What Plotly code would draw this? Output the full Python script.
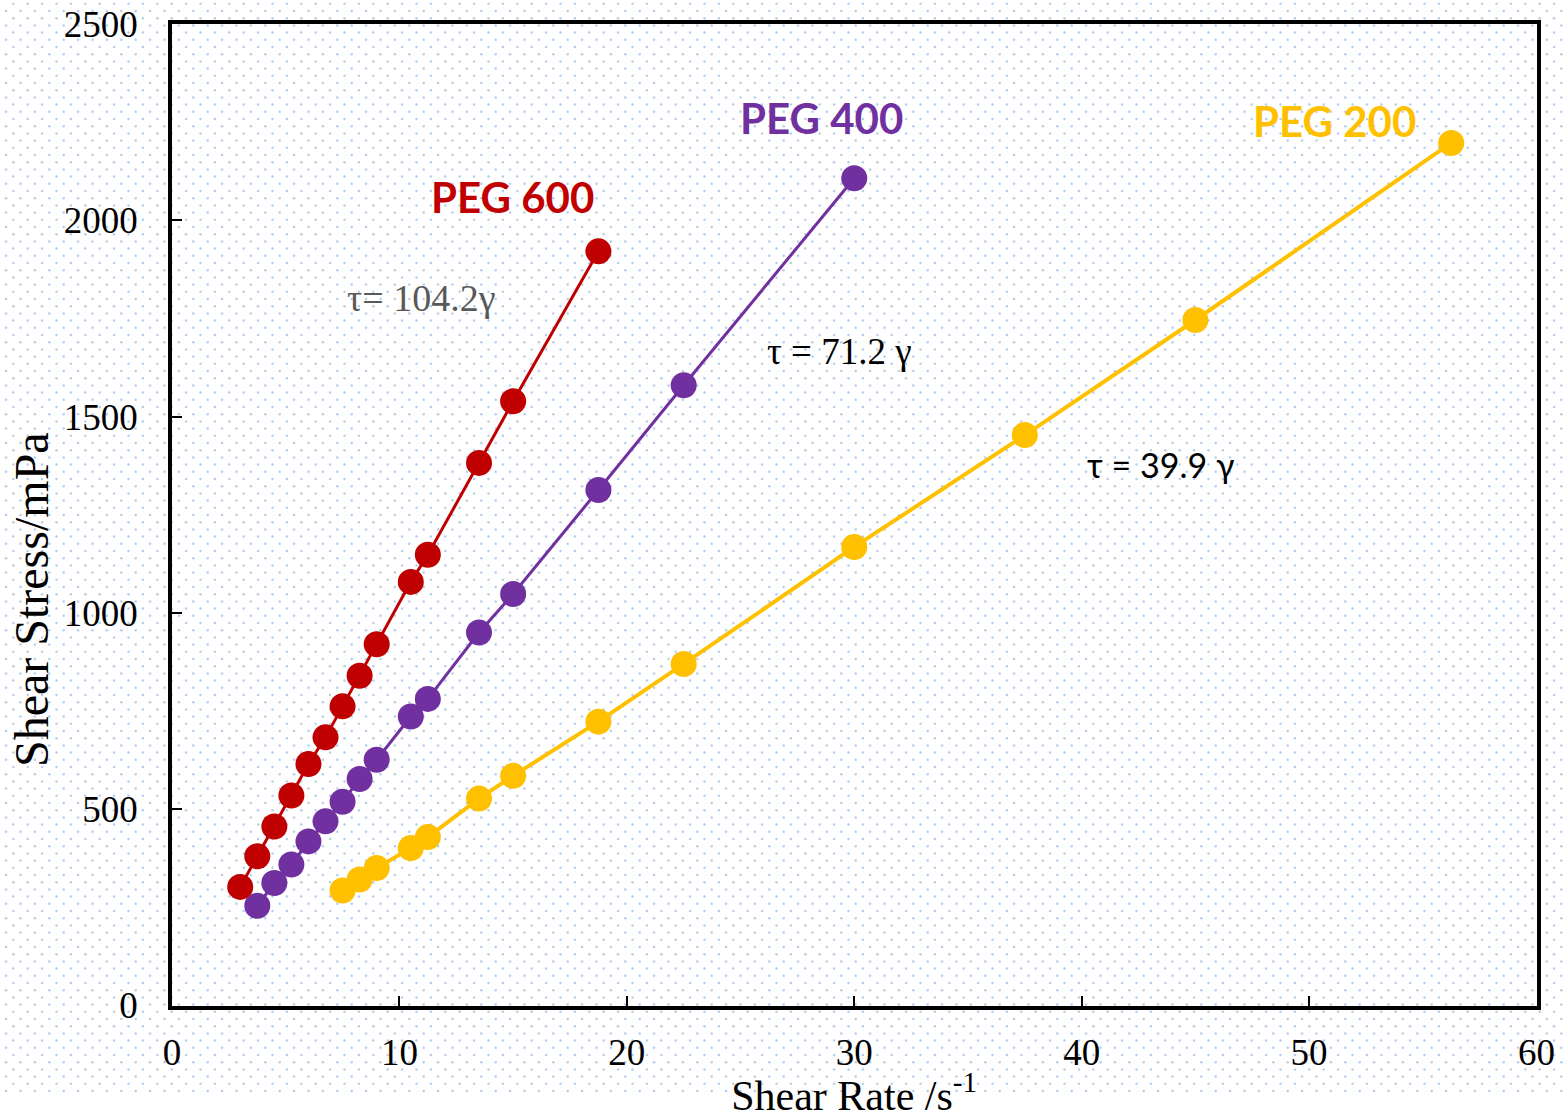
import numpy as np
import plotly.graph_objects as go

# ---- measured data: shear rate (1/s) vs shear stress (mPa) ----
peg600_rate = [3.0, 3.75, 4.5, 5.25, 6.0, 6.75, 7.5, 8.25, 9.0, 10.5, 11.25, 13.5, 15.0, 18.75]
peg600_stress = [302, 380, 456, 535, 615, 683, 762, 840, 920, 1079, 1148, 1382, 1539, 1921]

peg400_rate = [3.75, 4.5, 5.25, 6.0, 6.75, 7.5, 8.25, 9.0, 10.5, 11.25, 13.5, 15.0, 18.75, 22.5, 30.0]
peg400_stress = [254, 312, 359, 418, 469, 519, 577, 626, 736, 781, 950, 1048, 1313, 1580, 2107]

peg200_rate = [7.5, 8.25, 9.0, 10.5, 11.25, 13.5, 15.0, 18.75, 22.5, 30.0, 37.5, 45.0, 56.25]
peg200_stress = [293, 321, 350, 401, 429, 527, 585, 723, 870, 1168, 1453, 1746, 2197]

series_names = ["PEG 600", "PEG 400", "PEG 200"]
fit_labels = ["τ= 104.2γ", "τ = 71.2 γ", "τ = 39.9 γ"]

x_ticks = [0, 10, 20, 30, 40, 50, 60]
y_ticks = [0, 500, 1000, 1500, 2000, 2500]

RED, PURPLE, GOLD = "#C00000", "#7030A0", "#FFC000"

W, H = 1564, 1119
fig = go.Figure()

# ---- dotted paper texture behind the chart (full-page pixel axes) ----
pitch = 14.4
rows = np.arange(-5, 165)
dot_x, dot_y = [], []
for r in rows:
    y = 1055 - 7.2 * r
    if y < -5 or y > H + 5:
        continue
    x0 = 13.3 + (7.2 if r % 2 else 0.0)
    xs = np.arange(x0 - pitch, W + pitch, pitch)
    dot_x.extend(xs.tolist())
    dot_y.extend([y] * len(xs))
fig.add_trace(go.Scatter(
    x=dot_x, y=dot_y, mode="markers", xaxis="x", yaxis="y",
    marker=dict(size=2.5, color="#B4CEEA", line=dict(width=0)),
    hoverinfo="skip", showlegend=False,
))

# ---- flow curves ----
def curve(x, y, color, width, name):
    fig.add_trace(go.Scatter(
        x=x, y=y, mode="lines+markers", name=name, xaxis="x2", yaxis="y2",
        line=dict(color=color, width=width),
        marker=dict(size=26, color=color, line=dict(width=0)),
        showlegend=False,
    ))

curve(peg200_rate, peg200_stress, GOLD, 4, series_names[2])
curve(peg400_rate, peg400_stress, PURPLE, 3, series_names[1])
curve(peg600_rate, peg600_stress, RED, 3, series_names[0])

serif = "Liberation Serif"
tickfont = dict(family=serif, size=37, color="black")

x_dom = [172 / W, 1536.5 / W]
y_dom = [(H - 1005.5) / H, (H - 24) / H]

fig.update_layout(
    width=W, height=H,
    margin=dict(l=0, r=0, t=0, b=0, autoexpand=False),
    paper_bgcolor="white",
    plot_bgcolor="rgba(0,0,0,0)",
    xaxis=dict(domain=[0, 1], range=[0, W], visible=False, fixedrange=True),
    yaxis=dict(domain=[0, 1], range=[H, 0], visible=False, fixedrange=True),
    xaxis2=dict(
        domain=x_dom, anchor="y2", range=[0, 60], tickvals=x_ticks,
        showgrid=False, zeroline=False, automargin=False,
        showline=True, linewidth=3.5, linecolor="black", mirror=True,
        ticks="inside", ticklen=10, tickwidth=2, tickcolor="black",
        tickfont=tickfont, ticklabelstandoff=11,
        title=dict(text="Shear Rate /s<sup>-1</sup>",
                   font=dict(family=serif, size=42, color="black"), standoff=14),
    ),
    yaxis2=dict(
        domain=y_dom, anchor="x2", range=[0, 2500], tickvals=y_ticks,
        showgrid=False, zeroline=False, automargin=False,
        showline=True, linewidth=3.5, linecolor="black", mirror=True,
        ticks="inside", ticklen=10, tickwidth=2, tickcolor="black",
        tickfont=tickfont, ticklabelstandoff=23,
    ),
    showlegend=False,
)

# y-axis title, set a little below the axis centre
fig.add_annotation(text="Shear Stress/mPa", x=31 / W, y=(H - 600) / H,
                   xref="paper", yref="paper", showarrow=False, textangle=-90,
                   xanchor="center", yanchor="middle",
                   font=dict(family=serif, size=48, color="black"))

# ---- series labels and fitted-slope labels ----
def label(text, x, y, font):
    fig.add_annotation(text=text, x=x, y=y, xref="x2", yref="y2",
                       showarrow=False, xanchor="center", yanchor="middle", font=font)

label(f"<b>{series_names[0]}</b>", 14.96, 2059, dict(family="Lato", size=42, color=RED))
label(f"<b>{series_names[1]}</b>", 28.58, 2260, dict(family="Lato", size=42, color=PURPLE))
label(f"<b>{series_names[2]}</b>", 51.12, 2252, dict(family="Lato", size=42, color=GOLD))

label(fit_labels[0], 10.96, 1802, dict(family=serif, size=38, color="#595959"))
label(fit_labels[1], 29.37, 1667, dict(family=serif, size=37, color="black"))
label(fit_labels[2], 43.48, 1377, dict(family="Lato", size=34, color="black"))

fig.write_html("out.html")
